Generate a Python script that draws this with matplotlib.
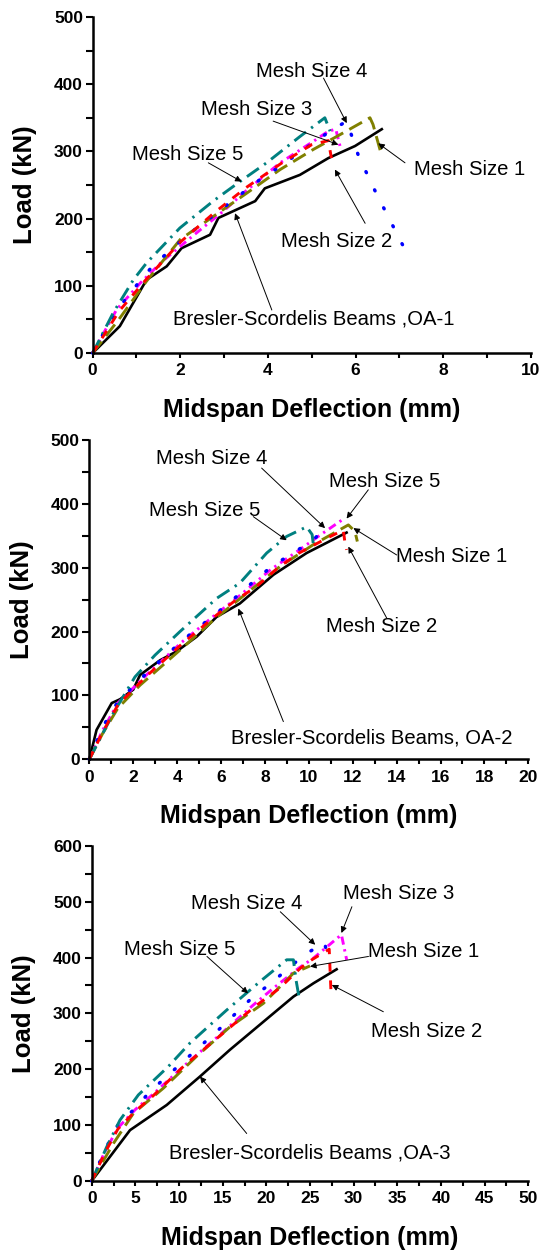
import matplotlib
matplotlib.use("Agg")
import matplotlib.pyplot as plt
from matplotlib.ticker import MultipleLocator

# ---------------- data ----------------
# Panel 1 (OA-1)
p1_exp_x = [0, 0.62, 1.23, 1.69, 2.03, 2.68, 2.87, 3.71, 3.93, 4.73, 5.38, 5.99, 6.6]
p1_exp_y = [0, 40, 109, 129, 156, 176, 201, 226, 245, 265, 290, 308, 333]
p1_m5_x = [0, 0.47, 0.93, 1.23, 1.99, 2.75, 3.36, 3.97, 4.73, 5.30, 5.42]
p1_m5_y = [0, 60, 109, 134, 186, 226, 255, 283, 322, 350, 330]
p1_m4_x = [0, 0.51, 1.04, 1.39, 2.22, 3.02, 3.82, 4.24, 5.04, 5.42, 5.8, 6.07, 6.47, 7.09]
p1_m4_y = [0, 60, 104, 131, 178, 218, 258, 276, 313, 330, 345, 293, 238, 159]
p1_m3_x = [0, 0.55, 1.1, 1.6, 2.3, 3.0, 3.44, 4.28, 5.04, 5.38, 5.55, 5.65]
p1_m3_y = [0, 65, 105, 137, 175, 212, 238, 283, 315, 330, 333, 307]
p1_m2_x = [0, 0.6, 1.2, 2.0, 2.8, 3.5, 4.3, 5.0, 5.38, 5.45]
p1_m2_y = [0, 62, 108, 165, 210, 246, 282, 310, 316, 290]
p1_m1_x = [0, 0.62, 1.23, 2.0, 2.75, 3.52, 4.28, 5.04, 5.65, 6.33, 6.4, 6.6]
p1_m1_y = [0, 52, 107, 169, 203, 238, 273, 303, 325, 350, 340, 293]

# Panel 2 (OA-2)
p2_exp_x = [0, 0.33, 1.02, 1.40, 2.0, 2.31, 3.22, 3.98, 4.89, 5.8, 6.86, 8.39, 9.9, 11.72]
p2_exp_y = [0, 46, 88, 94, 109, 132, 155, 169, 192, 223, 244, 289, 323, 355]
p2_m5_x = [0, 1.09, 2.08, 2.99, 4.13, 5.8, 6.86, 8.08, 8.99, 9.9, 10.15, 10.2]
p2_m5_y = [0, 72, 129, 163, 200, 252, 276, 323, 349, 364, 352, 338]
p2_m4_x = [0, 0.6, 1.3, 2.61, 4.28, 5.88, 6.71, 7.47, 8.31, 9.14, 10.2, 10.7]
p2_m4_y = [0, 50, 90, 135, 187, 231, 255, 278, 302, 320, 343, 362]
p2_m3_x = [0, 0.6, 1.3, 2.6, 4.2, 5.8, 6.7, 7.5, 8.3, 9.45, 10.51, 11.65]
p2_m3_y = [0, 45, 88, 132, 183, 228, 252, 275, 298, 325, 351, 378]
p2_m2_x = [0, 0.6, 1.3, 2.6, 4.2, 5.8, 6.7, 7.6, 8.6, 9.5, 10.81, 11.57, 11.65, 11.72]
p2_m2_y = [0, 42, 85, 130, 180, 226, 250, 270, 300, 322, 346, 359, 338, 328]
p2_m1_x = [0, 0.6, 1.3, 2.31, 4.13, 5.65, 7.17, 8.69, 10.2, 11.8, 12.1, 12.21]
p2_m1_y = [0, 40, 80, 116, 171, 218, 260, 302, 336, 367, 357, 341]

# Panel 3 (OA-3)
p3_exp_x = [0, 4.39, 8.59, 12.4, 15.84, 19.66, 23.1, 25.4, 28.05]
p3_exp_y = [0, 91, 136, 187, 235, 285, 330, 354, 379]
p3_m5_x = [0, 1.72, 3.24, 5.34, 8.78, 11.26, 15.46, 19.27, 22.33, 23.1, 23.4, 23.8]
p3_m5_y = [0, 61, 109, 154, 205, 247, 306, 357, 396, 396, 360, 324]
p3_m4_x = [0, 1.5, 3.0, 4.96, 6.68, 10.5, 14.69, 18.5, 20.8, 22.7, 25.0, 26.7, 27.0]
p3_m4_y = [0, 55, 100, 130, 160, 214, 273, 330, 357, 384, 411, 427, 396]
p3_m3_x = [0, 1.5, 3.0, 5.0, 7.0, 10.5, 14.7, 18.5, 20.8, 23.7, 25.4, 28.6, 28.8, 29.2]
p3_m3_y = [0, 52, 95, 128, 155, 205, 262, 315, 345, 381, 399, 441, 426, 396]
p3_m2_x = [0, 1.5, 3.0, 5.0, 7.0, 10.5, 14.7, 18.5, 21.5, 23.9, 25.2, 27.2, 27.4]
p3_m2_y = [0, 50, 93, 125, 152, 205, 260, 310, 345, 381, 396, 415, 340]
p3_m1_x = [0, 2.48, 4.77, 8.2, 12.0, 15.84, 19.66, 23.1, 25.0]
p3_m1_y = [0, 67, 121, 166, 223, 276, 318, 372, 385]

# annotations: (text, text_center, arrow_tail, arrow_tip)
p1_notes = [
    ("Mesh Size 4", (5.0, 419), (5.27, 409), (5.80, 342)),
    ("Mesh Size 3", (3.74, 362), (4.12, 345), (5.61, 310)),
    ("Mesh Size 5", (2.18, 295), (2.64, 283), (3.40, 255)),
    ("Mesh Size 1", (8.61, 273), (7.13, 283), (6.52, 312)),
    ("Mesh Size 2", (5.57, 166), (6.22, 193), (5.53, 273)),
    ("Bresler-Scordelis Beams ,OA-1", (5.04, 50), (4.09, 64), (3.25, 208)),
]
p2_notes = [
    ("Mesh Size 4", (5.57, 471), (7.85, 456), (10.74, 362)),
    ("Mesh Size 5", (13.47, 435), (12.71, 422), (11.72, 377)),
    ("Mesh Size 5", (5.27, 390), (7.47, 380), (8.99, 343)),
    ("Mesh Size 1", (16.5, 317), (14.0, 320), (12.03, 362)),
    ("Mesh Size 2", (13.32, 208), (13.55, 221), (11.8, 333)),
    ("Bresler-Scordelis Beams, OA-2", (12.86, 33), (8.84, 59), (6.79, 236)),
]
p3_notes = [
    ("Mesh Size 3", (35.1, 515), (29.8, 491), (28.6, 444)),
    ("Mesh Size 4", (17.75, 497), (21.6, 482), (25.6, 423)),
    ("Mesh Size 5", (10.1, 414), (13.2, 402), (17.9, 336)),
    ("Mesh Size 1", (38.0, 411), (31.7, 402), (25.0, 384)),
    ("Mesh Size 2", (38.4, 267), (33.4, 303), (27.5, 351)),
    ("Bresler-Scordelis Beams ,OA-3", (25.0, 50), (17.75, 85), (12.4, 187)),
]

x_limits = [(0, 10), (0, 20), (0, 50)]
y_limits = [(0, 500), (0, 500), (0, 600)]
x_major = [2, 2, 5]
x_minor = [1, 1, 2.5]

# ---------------- style ----------------
FONT = "Liberation Sans"
LW = 2.1
styles = {
    "m1": dict(color="#808000", lw=LW, dashes=(5, 2.4)),
    "m4": dict(color="#0000FF", lw=LW + 0.4, dashes=(0.3, 5.5), dash_capstyle="round"),
    "m5": dict(color="#008080", lw=LW, dashes=(5, 2.2, 0.8, 2.2)),
    "m3": dict(color="#FF00FF", lw=LW, dashes=(2.8, 1.6, 0.8, 1.6)),
    "m2": dict(color="#FF0000", lw=LW, dashes=(3.0, 3.0)),
    "exp": dict(color="black", lw=1.9),
}
draw_order = ["exp", "m3", "m1", "m4", "m5", "m2"]

panels = [
    dict(data={"m1": (p1_m1_x, p1_m1_y), "m4": (p1_m4_x, p1_m4_y), "m5": (p1_m5_x, p1_m5_y),
               "m3": (p1_m3_x, p1_m3_y), "m2": (p1_m2_x, p1_m2_y), "exp": (p1_exp_x, p1_exp_y)},
         notes=p1_notes, rect=[0.1713, 0.7187, 0.8097, 0.2678]),
    dict(data={"m1": (p2_m1_x, p2_m1_y), "m4": (p2_m4_x, p2_m4_y), "m5": (p2_m5_x, p2_m5_y),
               "m3": (p2_m3_x, p2_m3_y), "m2": (p2_m2_x, p2_m2_y), "exp": (p2_exp_x, p2_exp_y)},
         notes=p2_notes, rect=[0.1651, 0.3950, 0.8115, 0.2544]),
    dict(data={"m1": (p3_m1_x, p3_m1_y), "m4": (p3_m4_x, p3_m4_y), "m5": (p3_m5_x, p3_m5_y),
               "m3": (p3_m3_x, p3_m3_y), "m2": (p3_m2_x, p3_m2_y), "exp": (p3_exp_x, p3_exp_y)},
         notes=p3_notes, rect=[0.1695, 0.0590, 0.8070, 0.2670]),
]

fig = plt.figure(figsize=(5.41, 12.55), dpi=100)

for i, p in enumerate(panels):
    ax = fig.add_axes(p["rect"])
    for key in draw_order:
        xs, ys = p["data"][key]
        ax.plot(xs, ys, clip_on=False, **styles[key])
    ax.set_xlim(*x_limits[i])
    ax.set_ylim(*y_limits[i])
    ax.xaxis.set_major_locator(MultipleLocator(x_major[i]))
    ax.xaxis.set_minor_locator(MultipleLocator(x_minor[i]))
    ax.yaxis.set_major_locator(MultipleLocator(100))
    ax.yaxis.set_minor_locator(MultipleLocator(50))
    for s in ["top", "right"]:
        ax.spines[s].set_visible(False)
    for s in ["left", "bottom"]:
        ax.spines[s].set_linewidth(1.8)
    ax.tick_params(axis="y", which="both", direction="out", length=5, width=1.5, pad=2)
    ax.tick_params(axis="x", which="both", direction="out", length=3.5, width=1.5, pad=4)
    for lab in ax.get_xticklabels() + ax.get_yticklabels():
        lab.set_fontfamily(FONT)
        lab.set_fontweight("bold")
        lab.set_fontsize(12.5)
    ax.set_xlabel("Midspan Deflection (mm)", fontfamily=FONT, fontweight="bold",
                  fontsize=18, labelpad=14)
    ax.set_ylabel("Load (kN)", fontfamily=FONT, fontweight="bold", fontsize=18.5, labelpad=12)
    for txt, tpos, tail, tip in p["notes"]:
        ax.text(tpos[0], tpos[1], txt, ha="center", va="center", fontfamily=FONT,
                fontsize=14.6, zorder=5)
        ax.annotate("", xy=tip, xytext=tail,
                    arrowprops=dict(arrowstyle="-|>", color="black", lw=0.7,
                                    mutation_scale=9, shrinkA=0, shrinkB=0), zorder=6)

fig.savefig("out.png", dpi=100)
